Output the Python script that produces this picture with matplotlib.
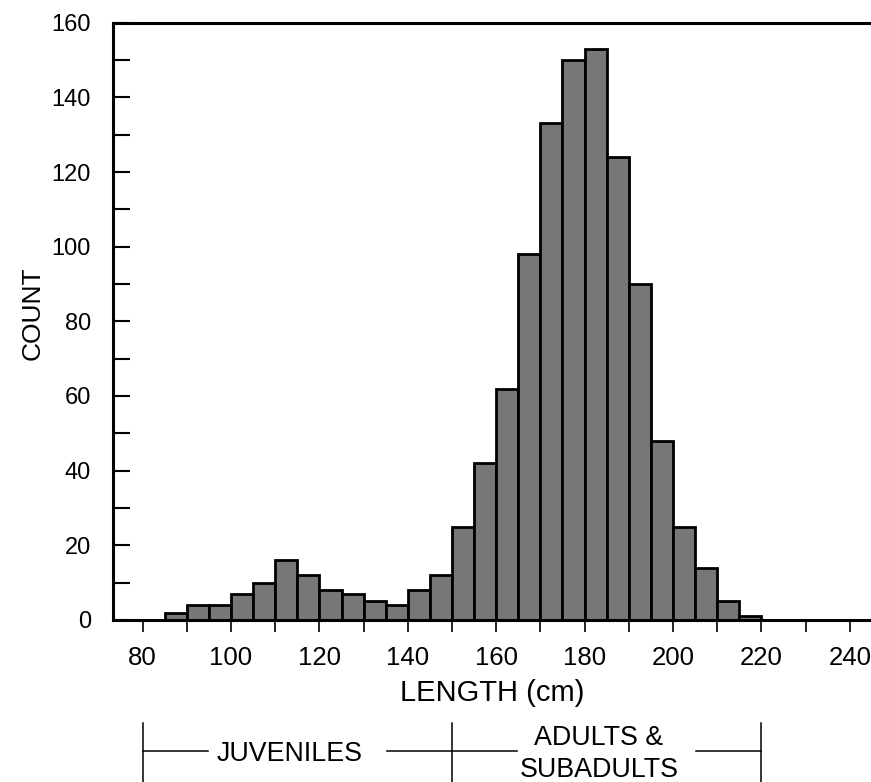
import matplotlib
matplotlib.use("Agg")
import matplotlib.pyplot as plt
import matplotlib.transforms as mtransforms
import numpy as np

# length classes (cm), 5 cm wide bins starting at 85
bin_edges = np.arange(85, 225, 5)
counts = [2, 4, 4, 7, 10, 16, 12, 8, 7, 5, 4, 8, 12, 25, 42,
          62, 98, 133, 150, 153, 124, 90, 48, 25, 14, 5, 1]

group_bounds = [80, 150, 220]
group_labels = ['JUVENILES', 'ADULTS &\nSUBADULTS']

plt.rcParams['font.family'] = ['Liberation Sans', 'DejaVu Sans']

fig = plt.figure(figsize=(8.71, 7.82), dpi=100)
ax = fig.add_axes([0.130, 0.2072, 0.870, 0.7638])

ax.bar(bin_edges[:-1], counts, width=5, align='edge',
       color='#777777', edgecolor='black', linewidth=2.0)

ax.set_xlim(73.35, 244.8)
ax.set_ylim(0, 160)

ax.set_yticks(np.arange(0, 161, 20))
ax.set_yticks(np.arange(10, 160, 20), minor=True)
ax.set_xticks(np.arange(80, 241, 20))
ax.set_xticks(np.arange(90, 240, 20), minor=True)

ax.tick_params(axis='y', which='both', direction='in', length=12.5,
               width=1.5, labelsize=17, pad=16)
ax.tick_params(axis='x', which='both', direction='out', length=8.5,
               width=1.2, labelsize=18.5, pad=10)

for side in ['left', 'bottom', 'top']:
    ax.spines[side].set_linewidth(2.2)
ax.spines['right'].set_visible(False)

ax.set_xlabel('LENGTH (cm)', fontsize=21, labelpad=7)
ax.set_ylabel('COUNT', fontsize=19)
ax.yaxis.set_label_coords(-0.091, 0.513)

# group brackets under the x axis
trans = mtransforms.blended_transform_factory(ax.transData, fig.transFigure)
line_y = 0.0396
for b in group_bounds:
    ax.plot([b, b], [0.0, 0.0754], color='black', linewidth=1.1,
            transform=trans, clip_on=False)
for i, label in enumerate(group_labels):
    lo, hi = group_bounds[i], group_bounds[i + 1]
    mid = (lo + hi) / 2
    ax.plot([lo, mid - 20.2], [line_y, line_y], color='black',
            linewidth=1.1, transform=trans, clip_on=False)
    ax.plot([mid + 20.2, hi], [line_y, line_y], color='black',
            linewidth=1.1, transform=trans, clip_on=False)
    ax.text(mid - 1.8, line_y - 0.004, label, transform=trans, ha='center',
            va='center', fontsize=19.3, linespacing=1.3)

fig.savefig('out.png', dpi=100)
